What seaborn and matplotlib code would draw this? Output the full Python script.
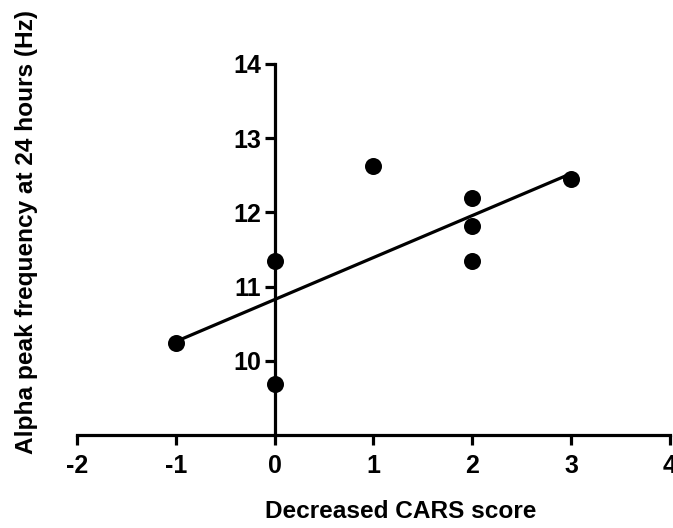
import numpy as np
import pandas as pd
import seaborn as sns
from matplotlib import pyplot as plt

# values
cars_decrease = [-1, 0, 0, 1, 2, 2, 2, 3]
alpha_peak_hz = [10.24, 11.34, 9.69, 12.62, 12.20, 11.82, 11.34, 12.45]
x_ticks = [-2, -1, 0, 1, 2, 3, 4]
y_ticks = [10, 11, 12, 13, 14]

df = pd.DataFrame({"cars": cars_decrease, "alpha": alpha_peak_hz})

sns.set_style("ticks")
plt.rcParams["font.family"] = ["Liberation Sans", "DejaVu Sans"]
plt.rcParams["font.weight"] = "bold"
plt.rcParams["text.color"] = "black"
plt.rcParams["xtick.color"] = "black"
plt.rcParams["ytick.color"] = "black"

fig = plt.figure(figsize=(6.73, 5.28), dpi=100)
ax = fig.add_axes([0.1144, 0.1761, 0.8811, 0.7027])

sns.regplot(data=df, x="cars", y="alpha", ax=ax, ci=None, truncate=True,
            color="black",
            scatter_kws={"s": 150, "alpha": 1, "linewidths": 0, "zorder": 3,
                         "clip_on": False},
            line_kws={"linewidth": 2.3})

# y axis crosses at x = 0, like the original
ax.spines["top"].set_visible(False)
ax.spines["right"].set_visible(False)
ax.spines["left"].set_position(("data", 0))
for s in ("left", "bottom"):
    ax.spines[s].set_linewidth(2.3)
    ax.spines[s].set_color("black")

ax.set_xlim(-2, 4)
ax.set_ylim(9, 14)
ax.set_xticks(x_ticks)
ax.set_yticks(y_ticks)
ax.set_xticklabels([str(t) for t in x_ticks], fontsize=18, fontweight="bold")
ax.set_yticklabels([str(t) for t in y_ticks], fontsize=18, fontweight="bold")
ax.set_xlabel("")
ax.set_ylabel("")
ax.tick_params(axis="both", direction="out", length=7, width=2.3, color="black",
               labelcolor="black", bottom=True, left=True, pad=3)
ax.tick_params(axis="x", pad=7)
ax.patch.set_alpha(0)

fig.text(0.5958, 0.01, "Decreased CARS score", ha="center", va="bottom",
         fontsize=17.6, fontweight="bold", color="black")
fig.text(0.039, 0.56, "Alpha peak frequency at 24 hours (Hz)", ha="center", va="center",
         rotation=90, fontsize=17.6, fontweight="bold", color="black")

fig.savefig("out.png", dpi=100)
